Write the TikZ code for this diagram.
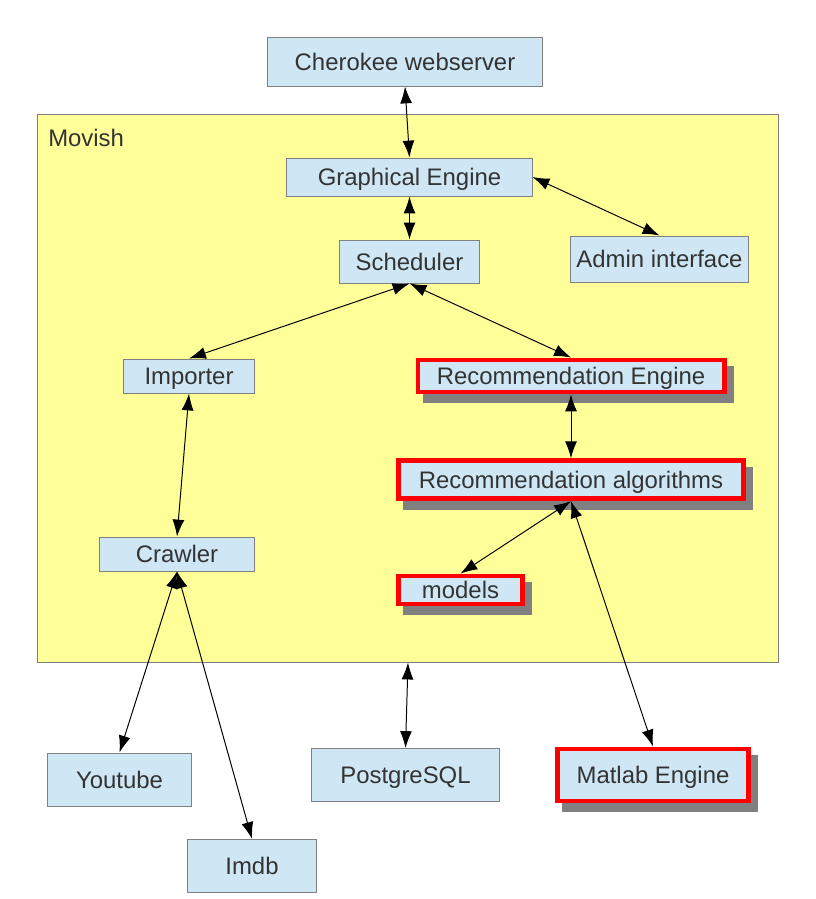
\documentclass[tikz,border=0pt]{standalone}
\usepackage{fontspec}
\setmainfont{Liberation Sans}
\usetikzlibrary{arrows.meta,shadows}
\definecolor{boxblue}{HTML}{CFE7F5}
\definecolor{boxgray}{HTML}{808080}
\definecolor{movishyellow}{HTML}{FFFF99}
\definecolor{txtgray}{HTML}{333333}
\definecolor{redline}{HTML}{FF0000}
\begin{document}
\begin{tikzpicture}[x=0.025cm,y=-0.025cm,
				every node/.style={text=txtgray,font=\fontsize{17}{20}\selectfont,inner sep=0pt,text height=12.2pt,text depth=0pt},
				box/.style={rectangle,draw=boxgray,line width=0.7pt,fill=boxblue},
				redbox/.style={box,draw=redline,line width=3.5pt,
					drop shadow={shadow xshift=5.2pt,shadow yshift=-6pt,fill=boxgray,draw=boxgray,opacity=1}},
				link/.style={{Latex[length=12pt,width=8.5pt]}-{Latex[length=12pt,width=8.5pt]},line width=0.7pt}]
\useasboundingbox (0,0) rectangle (815,899);
% container
\node[rectangle,draw=boxgray,line width=0.7pt,fill=movishyellow,minimum width=18.5cm,minimum height=13.675cm,text height=,text depth=] (movish) at (408,388.5) {};
\node[anchor=west] (movishlbl) at (48,137.5) {Movish};
% boxes
\node[box,minimum width=6.85cm,minimum height=1.2cm] (cherokee) at (405,62) {Cherokee webserver};
\node[box,minimum width=6.125cm,minimum height=0.95cm] (graphical) at (409.5,177) {Graphical Engine};
\node[box,minimum width=3.475cm,minimum height=1.075cm] (scheduler) at (409.5,261.5) {Scheduler};
\node[box,minimum width=4.425cm,minimum height=1.15cm] (admin) at (659.5,259) {Admin interface};
\node[box,minimum width=3.25cm,minimum height=0.85cm] (importer) at (189,376) {Importer};
\node[box,minimum width=3.85cm,minimum height=0.85cm] (crawler) at (177,554) {Crawler};
\node[redbox,minimum width=7.65cm,minimum height=0.8cm] (recengine) at (571,376) {Recommendation Engine};
\node[redbox,minimum width=8.625cm,minimum height=0.95cm] (recalgo) at (571,479.7) {Recommendation algorithms};
\node[redbox,minimum width=3.1cm,minimum height=0.7cm] (models) at (460.5,590) {models};
\node[box,minimum width=3.6cm,minimum height=1.325cm] (youtube) at (119.5,779.5) {Youtube};
\node[box,minimum width=3.225cm,minimum height=1.325cm] (imdb) at (252,866) {Imdb};
\node[box,minimum width=4.7cm,minimum height=1.325cm] (postgres) at (405.5,775) {PostgreSQL};
\node[redbox,minimum width=4.775cm,minimum height=1.3cm] (matlab) at (653,775) {Matlab Engine};
% connectors
\draw[link] (cherokee.south) -- (graphical.north);
\draw[link] (graphical.south) -- (scheduler.north);
\draw[link] (graphical.east) -- (admin.north);
\draw[link] (scheduler.south) -- (importer.north);
\draw[link] (scheduler.south) -- (recengine.north);
\draw[link] (recengine.south) -- (recalgo.north);
\draw[link] (recalgo.south) -- (models.north);
\draw[link] (recalgo.south) -- (matlab.north);
\draw[link] (importer.south) -- (crawler.north);
\draw[link] (crawler.south) -- (youtube.north);
\draw[link] (crawler.south) -- (imdb.north);
\draw[link] (movish.south) -- (postgres.north);
\end{tikzpicture}
\end{document}
